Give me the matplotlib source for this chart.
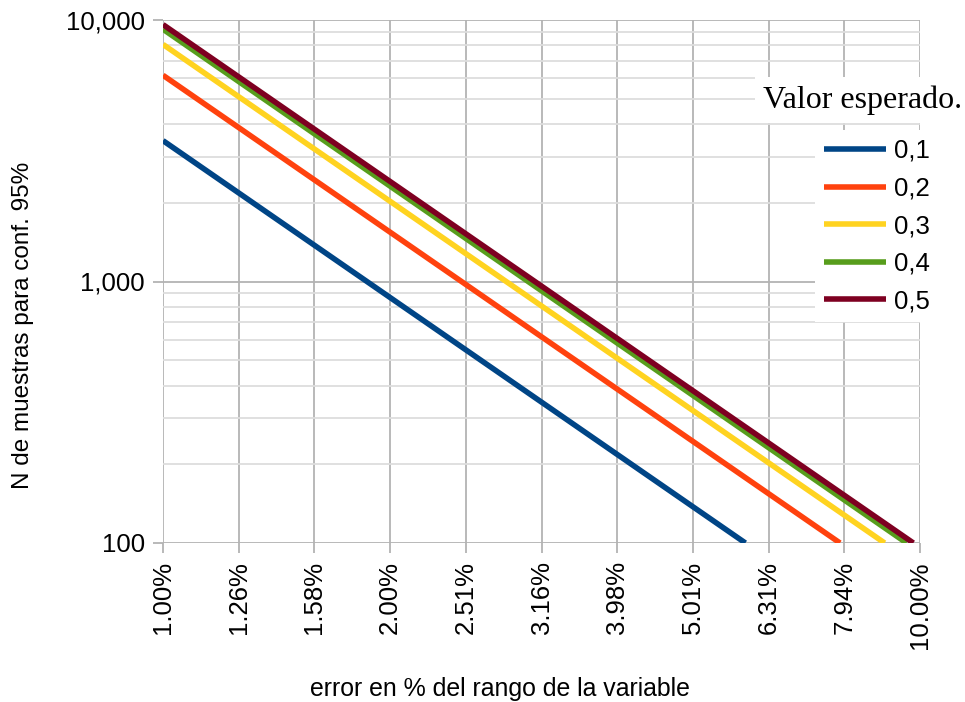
import matplotlib
matplotlib.use('Agg')
import matplotlib.pyplot as plt
from matplotlib.ticker import FixedLocator, LogLocator, NullFormatter

plt.rcParams['font.family'] = ['Liberation Sans', 'DejaVu Sans']

# valor esperado p -> (error, N) at both ends of each line
labels = ['0,1', '0,2', '0,3', '0,4', '0,5']
colors = ['#004586', '#ff420e', '#ffd320', '#579d1c', '#7e0021']
err_start = [0.01, 0.01, 0.01, 0.01, 0.01]
err_end = [0.0588, 0.0784, 0.0898, 0.0960, 0.0980]
n_start = [3457, 6147, 8067, 9220, 9604]
n_end = [100, 100, 100, 100, 100]

xticks = [0.01, 0.012589, 0.015849, 0.019953, 0.025119, 0.031623,
          0.039811, 0.050119, 0.063096, 0.079433, 0.1]
xticklabels = ['1.00%', '1.26%', '1.58%', '2.00%', '2.51%', '3.16%',
               '3.98%', '5.01%', '6.31%', '7.94%', '10.00%']
yticks = [100, 1000, 10000]
yticklabels = ['100', '1,000', '10,000']

fig = plt.figure(figsize=(9.65, 7.02), dpi=100)
ax = fig.add_axes([163 / 965, 1 - 543 / 702, 757 / 965, 523 / 702])
ax.set_xscale('log')
ax.set_yscale('log')
ax.set_xlim(0.01, 0.1)
ax.set_ylim(100, 10000)

for i in range(len(labels)):
    ax.plot([err_start[i], err_end[i]], [n_start[i], n_end[i]],
            color=colors[i], lw=4, solid_capstyle='butt', label=labels[i],
            zorder=3)

ax.xaxis.set_major_locator(FixedLocator(xticks))
ax.xaxis.set_minor_locator(FixedLocator([]))
ax.xaxis.set_minor_formatter(NullFormatter())
ax.set_xticklabels(xticklabels, rotation=90, fontsize=18.5)
ax.yaxis.set_major_locator(FixedLocator(yticks))
ax.yaxis.set_minor_locator(LogLocator(base=10, subs=range(2, 10)))
ax.yaxis.set_minor_formatter(NullFormatter())
ax.set_yticklabels(yticklabels, fontsize=18.5)

ax.grid(True, which='major', color='#b3b3b3', lw=1.3)
ax.grid(True, which='minor', axis='y', color='#dddddd', lw=1.3)
for s in ax.spines.values():
    s.set_visible(False)
ax.tick_params(which='major', length=7, width=1.3, color='#b3b3b3', pad=6)
ax.tick_params(which='minor', length=0)

ax.set_xlabel('error en % del rango de la variable', fontsize=17.9)
ax.set_ylabel('N de muestras para conf. 95%', fontsize=17.5)
ax.xaxis.set_label_coords(500 / 965, 1 - 689 / 702, transform=fig.transFigure)
ax.yaxis.set_label_coords(23 / 965, 1 - 325 / 702, transform=fig.transFigure)
ax.xaxis.label.set_va('center')
ax.yaxis.label.set_va('center')

leg = ax.legend(loc='upper left', bbox_to_anchor=(815 / 965, 1 - 130 / 702),
                bbox_transform=fig.transFigure, fontsize=18.5, frameon=True,
                fancybox=False, edgecolor='none', facecolor='white',
                framealpha=1, handlelength=2.4, handletextpad=0.32,
                labelspacing=0.53, borderpad=0.35, borderaxespad=0)
leg.set_zorder(5)

fig.text(962 / 965, 1 - 100 / 702, 'Valor esperado.', ha='right', va='center',
         fontsize=23, family=['Liberation Serif', 'DejaVu Serif'],
         bbox=dict(facecolor='white', edgecolor='none', pad=6), zorder=6)

fig.savefig('out.png', dpi=100)
